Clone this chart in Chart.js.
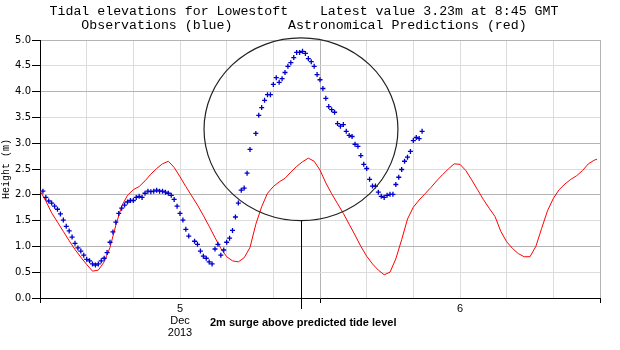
<!DOCTYPE html>
<html><head><meta charset="utf-8">
<script src="https://cdn.jsdelivr.net/npm/chart.js@4"></script>
<style>html,body{margin:0;padding:0;background:#fff}canvas{display:block}</style>
</head><body>
<canvas id="c" width="620" height="350"></canvas>
<script>
// ---- text ----
const titleLines = [
  'Tidal elevations for Lowestoft    Latest value 3.23m at 8:45 GMT',
  'Observations (blue)       Astronomical Predictions (red)'
];
const yAxisTitle = 'Height (m)';
// x axis: hours after 4 Dec 2013 12:00 GMT
const xMinHours = 0, xMaxHours = 48, xGridStepHours = 4;
const dayTickHours = [12, 36];
const dayTickLabels = [['5', 'Dec', '2013'], '6'];
const noonHours = [0, 24, 48];
// y axis
const yMin = 0, yMax = 5, yStep = 0.5;

// ---- observations (blue), every 15 min from 12:15 ----
const obsFirstHour = 0.25, obsStepHours = 0.25;
const obsHeights = [
  2.07, 1.95, 1.88, 1.84, 1.78, 1.72, 1.63, 1.51, 1.39, 1.30,
  1.18, 1.06, 0.97, 0.91, 0.83, 0.75, 0.72, 0.66, 0.64, 0.66,
  0.72, 0.77, 0.88, 1.08, 1.28, 1.47, 1.64, 1.74, 1.80, 1.86,
  1.89, 1.89, 1.95, 1.97, 1.95, 2.03, 2.07, 2.06, 2.07, 2.09,
  2.07, 2.07, 2.05, 2.03, 1.99, 1.91, 1.78, 1.64, 1.51, 1.33,
  1.20, null, 1.10, 1.04, 0.91, 0.81, 0.77, 0.70, 0.66, 0.95,
  1.04, 0.83, 0.93, 1.08, 1.16, 1.31, 1.57, 1.84, 2.09, 2.13,
  2.42, 2.88, null, 3.19, 3.54, 3.69, 3.83, 3.94, 3.94, 4.14,
  4.27, 4.18, 4.25, 4.37, 4.49, 4.56, 4.66, 4.76, 4.76, 4.78,
  4.74, 4.64, 4.58, 4.49, 4.33, 4.23, 4.06, 3.87, 3.71, 3.65,
  3.60, 3.38, 3.33, 3.36, 3.23, 3.15, 3.13, 2.98, 2.94, 2.76,
  2.59, 2.51, 2.30, 2.17, 2.17, 2.05, 1.97, 1.95, 1.99, 2.01,
  2.01, 2.20, 2.34, 2.49, 2.65, 2.73, 2.84, 3.05, 3.11, 3.09,
  3.23
];

// ---- astronomical predictions (red), every 30 min from 12:00, last at 11:45 ----
const predStepHours = 0.5, predLastHour = 47.75;
const predHeights = [
  2.08, 1.88, 1.65, 1.47, 1.29, 1.11, 0.94, 0.79, 0.65, 0.52,
  0.54, 0.70, 0.98, 1.41, 1.78, 1.99, 2.10, 2.16, 2.27, 2.40,
  2.51, 2.60, 2.65, 2.53, 2.35, 2.16, 1.98, 1.80, 1.60, 1.39,
  1.17, 0.96, 0.80, 0.72, 0.70, 0.78, 0.98, 1.43, 1.77, 2.03,
  2.16, 2.25, 2.32, 2.44, 2.55, 2.64, 2.71, 2.65, 2.48, 2.23,
  2.02, 1.83, 1.64, 1.43, 1.22, 1.00, 0.81, 0.66, 0.54, 0.45,
  0.50, 0.76, 1.13, 1.53, 1.76, 1.90, 2.02, 2.14, 2.27, 2.39,
  2.50, 2.60, 2.59, 2.47, 2.29, 2.10, 1.91, 1.74, 1.58, 1.29,
  1.09, 0.96, 0.86, 0.80, 0.80, 1.00, 1.35, 1.69, 1.93, 2.10,
  2.21, 2.30, 2.37, 2.47, 2.60, 2.67, 2.69
];

// ---- annotation (circle around the surge peak) ----
const surgeHour = 22.37, surgeHeight = 3.27;
const surgeRadiusHours = 8.31, surgeRadiusMetres = 1.77;
const surgeLabel = '2m surge above predicted tide level';

const obsPoints = obsHeights.map((v, i) => ({x: obsFirstHour + i * obsStepHours, y: v}));
const predPoints = predHeights.map((v, i) => ({x: Math.min(i * predStepHours, predLastHour), y: v}));

const overlay = {
  id: 'overlay',
  afterDraw(chart) {
    const {ctx, chartArea} = chart;
    const xs = chart.scales.x, ys = chart.scales.y;
    ctx.save();
    ctx.fillStyle = '#000';
    ctx.font = '13.25px "Liberation Mono"';
    ctx.textAlign = 'center';
    ctx.textBaseline = 'alphabetic';
    ctx.fillText(titleLines[0], 304, 15);
    ctx.fillText(titleLines[1], 304, 29);

    const cx = xs.getPixelForValue(surgeHour), cy = ys.getPixelForValue(surgeHeight);
    const rx = xs.getPixelForValue(surgeHour + surgeRadiusHours) - cx;
    const ry = cy - ys.getPixelForValue(surgeHeight + surgeRadiusMetres);
    ctx.beginPath();
    ctx.ellipse(cx, cy, rx, ry, 0, 0, Math.PI * 2);
    ctx.strokeStyle = '#222';
    ctx.lineWidth = 1.2;
    ctx.stroke();

    const lx = Math.round(cx) + 0.5;
    ctx.beginPath();
    ctx.moveTo(lx, cy + ry);
    ctx.lineTo(lx, chartArea.bottom + 11);
    ctx.strokeStyle = '#000';
    ctx.lineWidth = 1;
    ctx.stroke();

    ctx.font = 'bold 11px "Liberation Sans"';
    ctx.textAlign = 'left';
    ctx.fillText(surgeLabel, 210, 326);
    ctx.restore();
  }
};

new Chart(document.getElementById('c'), {
  data: {
    datasets: [
      {
        type: 'scatter', label: 'Observations', data: obsPoints,
        pointStyle: 'cross', pointRadius: 2.5, pointHoverRadius: 2.5,
        borderColor: '#0000cc', backgroundColor: '#0000cc', pointBorderWidth: 1.3
      },
      {
        type: 'line', label: 'Predictions', data: predPoints,
        borderColor: '#ff0000', borderWidth: 1, pointRadius: 0, tension: 0, fill: false
      }
    ]
  },
  options: {
    responsive: false, animation: false, devicePixelRatio: 1,
    layout: {padding: {top: 40, right: 20, left: 0, bottom: 0}},
    plugins: {legend: {display: false}, title: {display: false}, tooltip: {enabled: false}},
    scales: {
      x: {
        type: 'linear', min: xMinHours, max: xMaxHours,
        afterFit(s) { s.height = 52; },
        ticks: {
          stepSize: xGridStepHours, autoSkip: false, maxRotation: 0, padding: 0,
          color: '#000', font: {family: '"Liberation Sans"', size: 11, lineHeight: 1.1},
          callback: (v) => { const i = dayTickHours.indexOf(v); return i >= 0 ? dayTickLabels[i] : ''; }
        },
        grid: {
          color: (c) => noonHours.includes(c.tick && c.tick.value) ? '#b4b4b4' : '#dcdcdc',
          tickColor: (c) => noonHours.includes(c.tick && c.tick.value) ? '#000' : 'rgba(0,0,0,0)',
          tickLength: 5, lineWidth: 1
        },
        border: {display: true, color: '#000', width: 1}
      },
      y: {
        type: 'linear', min: yMin, max: yMax,
        afterFit(s) { s.width = 40; },
        title: {display: true, text: yAxisTitle, color: '#000', padding: 0,
                font: {family: '"Liberation Mono"', size: 10}},
        ticks: {
          stepSize: yStep, padding: 1, color: '#000',
          font: {family: '"DejaVu Sans"', size: 10},
          callback: (v) => Number(v).toFixed(1)
        },
        grid: {
          color: (c) => (c.tick && Math.abs(c.tick.value % 1) < 1e-6) ? '#b4b4b4' : '#dcdcdc',
          tickColor: '#000', tickLength: 8, lineWidth: 1
        },
        border: {display: true, color: '#000', width: 1}
      }
    }
  },
  plugins: [overlay]
});
</script>
</body></html>
